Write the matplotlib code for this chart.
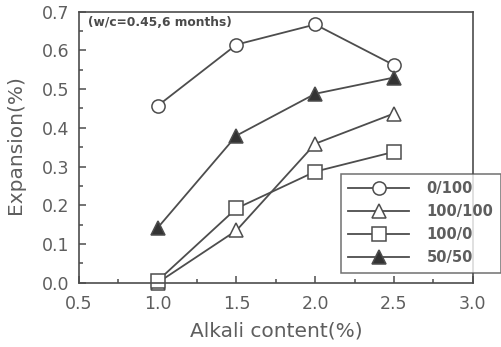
import numpy as np
import matplotlib.pyplot as plt
from matplotlib.ticker import MultipleLocator

plt.rcParams['font.family'] = ['DejaVu Sans']

alkali = [1.0, 1.5, 2.0, 2.5]
exp_0_100 = [0.457, 0.615, 0.667, 0.562]
exp_100_100 = [0.0, 0.135, 0.359, 0.437]
exp_100_0 = [0.005, 0.192, 0.287, 0.338]
exp_50_50 = [0.142, 0.380, 0.488, 0.530]
labels = ['0/100', '100/100', '100/0', '50/50']

grey = '#4d4d4d'
txt = '#5e5e5e'

fig = plt.figure(figsize=(5.02, 3.47), dpi=100)
ax = fig.add_axes([79/502, 1 - 282.7/347, (472.7-79)/502, (282.7-11.7)/347])

kw = dict(color=grey, lw=1.3, ms=9.5, mew=1.1, mec=grey, clip_on=False)
ax.plot(alkali, exp_0_100, marker='o', mfc='white', label=labels[0], **kw)
ax.plot(alkali, exp_100_100, marker='^', mfc='white', label=labels[1], **kw)
ax.plot(alkali, exp_100_0, marker='s', mfc='white', label=labels[2], **kw)
ax.plot(alkali, exp_50_50, marker='^', mfc='#333333', label=labels[3], **kw)

ax.set_xlim(0.5, 3.0)
ax.set_ylim(0.0, 0.7)
ax.xaxis.set_major_locator(MultipleLocator(0.5))
ax.xaxis.set_minor_locator(MultipleLocator(0.25))
ax.yaxis.set_major_locator(MultipleLocator(0.1))
ax.yaxis.set_minor_locator(MultipleLocator(0.05))
ax.xaxis.set_major_formatter(lambda v, p: f'{v:.1f}')
ax.yaxis.set_major_formatter(lambda v, p: f'{v:.1f}')
ax.tick_params(which='both', direction='in', colors=grey, labelcolor=txt,
               labelsize=12.5, width=1.1)
ax.tick_params(which='major', length=5)
ax.tick_params(which='minor', length=3)
ax.tick_params(axis='x', which='major', pad=9)
ax.tick_params(axis='y', which='major', pad=7)
for s in ax.spines.values():
    s.set_color(grey)
    s.set_linewidth(1.2)

ax.set_xlabel('Alkali content(%)', fontsize=14.5, color=txt, labelpad=6)
ax.set_ylabel('Expansion(%)', fontsize=14.5, color=txt)
ax.yaxis.set_label_coords(-0.137, 0.51)
ax.text(0.56, 0.663, '(w/c=0.45,6 months)', fontsize=8.8, color='#4a4a4a',
        fontweight='semibold')

leg = fig.legend(loc='upper left', bbox_to_anchor=(340.7/502, 1 - 174/347),
                 frameon=True, fancybox=False, edgecolor=grey, fontsize=10.5,
                 labelcolor=txt, handlelength=4.2, borderpad=0.5,
                 labelspacing=0.55, handletextpad=1.2, borderaxespad=0)
leg.get_frame().set_linewidth(1.1)
for t in leg.get_texts():
    t.set_fontweight('bold')

fig.savefig('out.png', dpi=100)
